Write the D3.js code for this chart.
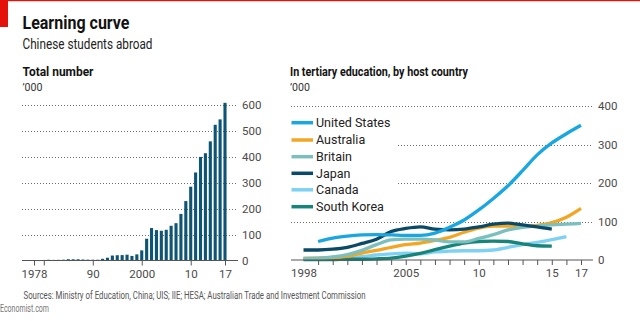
<!DOCTYPE html>
<html>
<head>
<meta charset="utf-8">
<script src="https://cdn.jsdelivr.net/npm/d3@7"></script>
<style>
  html, body { margin: 0; padding: 0; background: #fff; }
  svg { display: block; }
  text { font-family: Roboto, "Noto Sans", sans-serif; }
</style>
</head>
<body>
<svg id="chart" width="640" height="321"></svg>
<script>
// ---------- DATA ----------
const totalYears = [1978,1979,1980,1981,1982,1983,1984,1985,1986,1987,1988,1989,1990,1991,1992,1993,1994,1995,1996,1997,1998,1999,2000,2001,2002,2003,2004,2005,2006,2007,2008,2009,2010,2011,2012,2013,2014,2015,2016,2017];
const totalValues = [0.9,1.8,2.1,2.9,2.3,2.6,3.1,4.9,4.7,4.7,3.8,3.3,3.0,2.9,6.5,10.7,19.1,20.4,20.9,22.4,17.6,23.7,39.0,84.0,125.2,117.3,114.7,118.5,134.0,144.0,179.8,229.3,284.7,339.7,399.6,413.9,459.8,523.7,544.5,608.4];
const totalTickYears = [1978,1980,1990,2000,2010,2017];
const totalTickLabels = ["1978","","90","2000","10","17"];
const totalYTicks = [0,100,200,300,400,500,600];

const seriesNames = ["United States","Australia","Britain","Japan","Canada","South Korea"];
const seriesColors = ["#1aa7e1","#f3a623","#7bbfbf","#0b4a67","#7fd1f4","#178479"];
const usYears = [1999,2000,2001,2002,2003,2004,2005,2006,2007,2008,2009,2010,2011,2012,2013,2014,2015,2016,2017];
const usValues = [48,57,62,65,66,65,64,64,70,85,104,130,160,193,232,273,304,328,350];
const australiaYears = [1998,1999,2000,2001,2002,2003,2004,2005,2006,2007,2008,2009,2010,2011,2012,2013,2014,2015,2016,2017];
const australiaValues = [4,5,6,10,18,25,33,40,44,51,59,72,83,88,88,87,90,97,111,134];
const britainYears = [1998,1999,2000,2001,2002,2003,2004,2005,2006,2007,2008,2009,2010,2011,2012,2013,2014,2015,2016,2017];
const britainValues = [4,5,8,14,25,40,52,54,54,52,47,47,56,66,78,85,88,91,93,95];
const japanYears = [1998,1999,2000,2001,2002,2003,2004,2005,2006,2007,2008,2009,2010,2011,2012,2013,2014,2015];
const japanValues = [26,26,28,33,43,54,74,82,86,80,78,80,86,93,96,91,86,80];
const canadaYears = [1998,1999,2000,2001,2002,2003,2004,2005,2006,2007,2008,2009,2010,2011,2012,2013,2014,2015,2016];
const canadaValues = [2,3,4,6,9,13,16,18,16,21,23,24,24,26,33,40,46,53,61];
const koreaYears = [1998,1999,2000,2001,2002,2003,2004,2005,2006,2007,2008,2009,2010,2011,2012,2013,2014,2015];
const koreaValues = [1,1,1,2,2,3,5,10,17,27,36,44,48,49,48,42,37,36];
const hostTickYears = [1999,2000,2001,2002,2003,2004,2005,2006,2007,2008,2009,2010,2011,2012,2013,2014,2015,2016,2017];
const hostLabelYears = [1998,2005,2010,2015,2017];
const hostLabelText = ["1998","2005","10","15","17"];
const hostYTicks = [0,100,200,300,400];

// ---------- SETUP ----------
const svg = d3.select("#chart");
const gridColor = "#6f6f6f";
const axisColor = "#555";
const labelColor = "#4a4a4a";

// top red line and block
svg.append("rect").attr("x",0).attr("y",0).attr("width",640).attr("height",1.2).attr("fill","#e3120b");
svg.append("rect").attr("x",0).attr("y",0).attr("width",8).attr("height",27).attr("fill","#e3120b");

function fitText(x, y, str, size, weight, fill, len) {
  const t = svg.append("text").attr("x",x).attr("y",y).text(str)
    .attr("font-size",size).attr("font-weight",weight).attr("fill",fill);
  if (len) t.attr("textLength",len).attr("lengthAdjust","spacingAndGlyphs");
  return t;
}

fitText(22.5, 28.5, "Learning curve", 19, 700, "#121212", 107);
fitText(22.5, 48.5, "Chinese students abroad", 14, 400, "#222", 130);
fitText(22.5, 76, "Total number", 13, 700, "#121212", 71);
fitText(22.5, 91, "\u2019000", 11, 400, "#333", 20);
fitText(290, 76, "In tertiary education, by host country", 13, 700, "#121212", 178);
fitText(290, 91, "\u2019000", 11, 400, "#333", 20);
fitText(23.5, 298.5, "Sources: Ministry of Education, China; UIS; IIE; HESA; Australian Trade and Investment Commission", 10, 400, "#555", 342);
fitText(0, 311.5, "Economist.com", 10.5, 400, "#777", 49);

// ---------- LEFT PANEL: bars ----------
const xL = d3.scaleLinear().domain([1978,2017]).range([34,225]);
const yL = d3.scaleLinear().domain([0,600]).range([260.5,105]);
const gL = svg.append("g");

gL.selectAll("line.grid").data(totalYTicks.filter(d => d > 0)).join("line")
  .attr("x1",22).attr("x2",238)
  .attr("y1",d => Math.round(yL(d)) + 0.5).attr("y2",d => Math.round(yL(d)) + 0.5)
  .attr("stroke",gridColor).attr("stroke-width",1).attr("stroke-dasharray","1,2");

const barW = 3.1;
gL.selectAll("rect.bar").data(totalYears).join("rect")
  .attr("x",(d) => xL(d) - barW/2)
  .attr("width",barW)
  .attr("y",(d,i) => yL(totalValues[i]))
  .attr("height",(d,i) => yL(0) - yL(totalValues[i]))
  .attr("fill","#0e5575");

// x axis
const xAxisL = d3.axisBottom(xL).tickValues(totalTickYears)
  .tickFormat((d,i) => totalTickLabels[i]).tickSize(5).tickSizeOuter(0).tickPadding(4);
const axL = svg.append("g").attr("transform","translate(0,260.5)").call(xAxisL);
axL.select(".domain").remove();
axL.append("line").attr("x1",22).attr("x2",238).attr("y1",0).attr("y2",0).attr("stroke",axisColor);
axL.selectAll(".tick line").attr("stroke",axisColor);
axL.selectAll(".tick text").attr("fill",labelColor).attr("font-size",11.5).attr("font-family","Roboto, sans-serif");

// y axis labels
const yAxisL = d3.axisRight(yL).tickValues(totalYTicks).tickSize(0).tickPadding(0);
const ayL = svg.append("g").attr("transform","translate(242,0)").call(yAxisL);
ayL.select(".domain").remove();
ayL.selectAll(".tick text").attr("fill",labelColor).attr("font-size",11.5).attr("font-family","Roboto, sans-serif");

// ---------- RIGHT PANEL: lines ----------
const xR = d3.scaleLinear().domain([1998,2017]).range([303.5,581]);
const yR = d3.scaleLinear().domain([0,400]).range([260,106]);
const gR = svg.append("g");

const gridStart = {100:291, 200:398, 300:398, 400:291};
gR.selectAll("line.grid").data(hostYTicks.filter(d => d > 0)).join("line")
  .attr("x1",d => gridStart[d]).attr("x2",593)
  .attr("y1",d => Math.round(yR(d)) + 0.5).attr("y2",d => Math.round(yR(d)) + 0.5)
  .attr("stroke",gridColor).attr("stroke-width",1).attr("stroke-dasharray","1,2");

const seriesData = [
  [usYears, usValues],
  [australiaYears, australiaValues],
  [britainYears, britainValues],
  [japanYears, japanValues],
  [canadaYears, canadaValues],
  [koreaYears, koreaValues]
];
const lineGen = d3.line().x(d => xR(d[0])).y(d => yR(d[1])).curve(d3.curveMonotoneX);
// draw order: back to front
const drawOrder = [4,5,1,2,3,0];
drawOrder.forEach(i => {
  const pts = seriesData[i][0].map((yr,j) => [yr, seriesData[i][1][j]]);
  gR.append("path").datum(pts).attr("d",lineGen)
    .attr("fill","none").attr("stroke",seriesColors[i])
    .attr("stroke-width",3.3).attr("stroke-linecap","butt").attr("stroke-linejoin","round");
});

// x axis
const xAxisR = d3.axisBottom(xR).tickValues(hostTickYears).tickFormat("").tickSize(5).tickSizeOuter(0);
const axR = svg.append("g").attr("transform","translate(0,260)").call(xAxisR);
axR.select(".domain").remove();
axR.append("line").attr("x1",291).attr("x2",593).attr("y1",0).attr("y2",0).attr("stroke",axisColor);
axR.selectAll(".tick line").attr("stroke",axisColor);
const xLabR = d3.axisBottom(xR).tickValues(hostLabelYears).tickFormat((d,i) => hostLabelText[i]).tickSize(0).tickPadding(9);
const axR2 = svg.append("g").attr("transform","translate(0,260)").call(xLabR);
axR2.select(".domain").remove();
axR2.selectAll(".tick text").attr("fill",labelColor).attr("font-size",11.5).attr("font-family","Roboto, sans-serif");

// y axis labels
const yAxisR = d3.axisRight(yR).tickValues(hostYTicks).tickSize(0).tickPadding(0);
const ayR = svg.append("g").attr("transform","translate(598,0)").call(yAxisR);
ayR.select(".domain").remove();
ayR.selectAll(".tick text").attr("fill",labelColor).attr("font-size",11.5).attr("font-family","Roboto, sans-serif");

// legend
const legendY = [122.7,140,156.7,173.3,189.8,206.7];
const lg = svg.append("g");
seriesNames.forEach((name,i) => {
  lg.append("line").attr("x1",291.5).attr("x2",313).attr("y1",legendY[i]).attr("y2",legendY[i])
    .attr("stroke",seriesColors[i]).attr("stroke-width",3.5);
  lg.append("text").attr("x",316).attr("y",legendY[i] + 4.3).text(name)
    .attr("font-size",12.5).attr("fill","#222");
});
</script>
</body>
</html>
